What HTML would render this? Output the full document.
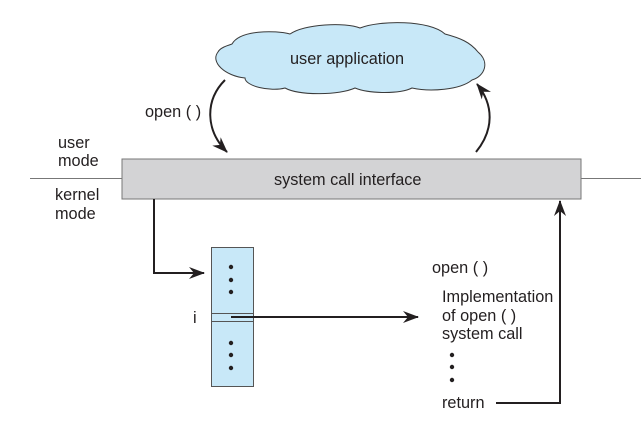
<!DOCTYPE html>
<html><head><style>
html,body{margin:0;padding:0;background:#fff;}
svg{display:block;}
text{font-family:"Liberation Sans",Arial,sans-serif;font-size:16.3px;fill:#231f20;}
</style></head><body>
<svg width="641" height="436" viewBox="0 0 641 436" xmlns="http://www.w3.org/2000/svg">
<defs>
<marker id="ah" markerWidth="16" markerHeight="12" refX="15" refY="6" orient="auto" markerUnits="userSpaceOnUse">
<path d="M0,0 L16,6 L0,12 L5,6 Z" fill="#231f20"/>
</marker>
</defs>
<path d="M232,44 C240,30 275,30 290,34 C305,24 345,22 360,28 C380,20 430,20 445,34 C460,38 470,42 478,52 C490,62 485,76 472,80 C460,90 430,92 412,88 C400,94 370,94 355,88 C340,95 300,96 285,88 C270,92 245,86 245,78 C225,76 210,62 218,52 C220,48 226,46 232,44 Z" fill="#c8e8f8" stroke="#3a3a3a" stroke-width="1"/>
<text x="290" y="64">user application</text>
<path d="M225,80 C205,100 205,130 227,152" fill="none" stroke="#231f20" stroke-width="2" marker-end="url(#ah)"/>
<path d="M476,152 C494,130 494,105 477,84" fill="none" stroke="#231f20" stroke-width="2" marker-end="url(#ah)"/>
<text x="145" y="117">open ( )</text>
<line x1="30" y1="178.5" x2="122" y2="178.5" stroke="#777" stroke-width="1"/>
<line x1="581" y1="178.5" x2="641" y2="178.5" stroke="#777" stroke-width="1"/>
<text x="58" y="148">user</text>
<text x="58" y="166">mode</text>
<text x="55" y="200">kernel</text>
<text x="55" y="219">mode</text>
<rect x="122" y="159" width="459" height="40" fill="#d3d3d5" stroke="#777" stroke-width="1"/>
<text x="274" y="185">system call interface</text>
<path d="M154,199 L154,273 L204,273" fill="none" stroke="#231f20" stroke-width="2" marker-end="url(#ah)"/>
<rect x="211.5" y="247.5" width="42" height="139" fill="#c8e8f8" stroke="#555" stroke-width="1"/>
<line x1="211.5" y1="313.5" x2="253.5" y2="313.5" stroke="#555"/>
<line x1="211.5" y1="321.5" x2="253.5" y2="321.5" stroke="#555"/>
<g fill="#231f20">
<circle cx="231" cy="267" r="2.2"/><circle cx="231" cy="280" r="2.2"/><circle cx="231" cy="292" r="2.2"/>
<circle cx="231" cy="343" r="2.2"/><circle cx="231" cy="355" r="2.2"/><circle cx="231" cy="368" r="2.2"/>
</g>
<text x="193" y="323">i</text>
<line x1="231" y1="317" x2="418" y2="317" stroke="#231f20" stroke-width="2" marker-end="url(#ah)"/>
<text x="432" y="273">open ( )</text>
<text x="442" y="302">Implementation</text>
<text x="442" y="321">of open ( )</text>
<text x="442" y="339">system call</text>
<g fill="#231f20">
<circle cx="452" cy="355" r="2.2"/><circle cx="452" cy="367" r="2.2"/><circle cx="452" cy="380" r="2.2"/>
</g>
<text x="442" y="408">return</text>
<path d="M496,403 L560,403 L560,201" fill="none" stroke="#231f20" stroke-width="2" marker-end="url(#ah)"/>
</svg>
</body></html>
